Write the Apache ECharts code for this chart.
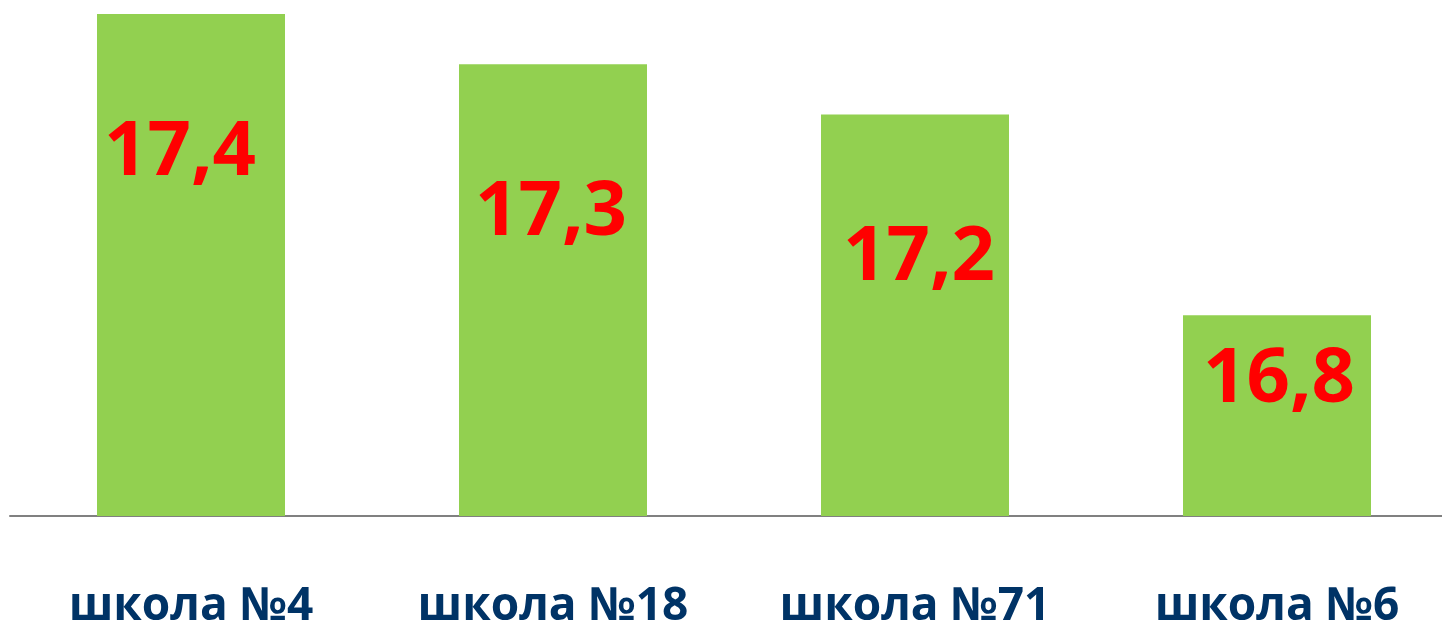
<!DOCTYPE html>
<html lang="ru">
<head>
    <meta charset="utf-8">
    <title>школы</title>
    <script type="text/javascript" src="https://cdn.jsdelivr.net/npm/echarts@6/dist/echarts.min.js"></script>
    <style>
        html, body { margin: 0; padding: 0; background: #fff; }
        #main { width: 1442px; height: 621px; }
    </style>
</head>
<body>
<div id="main"></div>
<script type="text/javascript">
    // данные
    var categories = ['школа №4', 'школа №18', 'школа №71', 'школа №6'];
    var values = [17.4, 17.3, 17.2, 16.8];
    // где стоит подпись внутри столбца (от центра / от верха столбца, px)
    var labelShiftX = [-11, -2, 4, 2];
    var labelOffsets = [139, 149, 144, 65];

    var myChart = echarts.init(document.getElementById('main'));

    var seriesData = values.map(function (v, i) {
        return {
            value: v,
            label: { position: ['50%', labelOffsets[i]], offset: [labelShiftX[i], 0] }
        };
    });

    var option = {
        animation: false,
        grid: { left: 10, right: -16, top: 14, bottom: 105, outerBoundsMode: 'none' },
        xAxis: {
            type: 'category',
            data: categories,
            axisTick: { show: false },
            axisLine: { lineStyle: { color: '#808080', width: 2 } },
            axisLabel: {
                margin: 68,
                color: '#003366',
                fontFamily: 'Open Sans',
                fontWeight: 'bold',
                fontSize: 46
            }
        },
        yAxis: {
            type: 'value',
            min: 16.4,
            max: 17.4,
            show: false,
            splitLine: { show: false }
        },
        series: [{
            type: 'bar',
            data: seriesData,
            barWidth: 188,
            itemStyle: { color: '#92D050' },
            label: {
                show: true,
                align: 'center',
                verticalAlign: 'middle',
                color: '#FF0000',
                fontFamily: 'Open Sans',
                fontWeight: 'bold',
                fontSize: 76,
                formatter: function (p) {
                    return p.value.toFixed(1).replace('.', ',');
                }
            }
        }]
    };

    myChart.setOption(option);
</script>
</body>
</html>
